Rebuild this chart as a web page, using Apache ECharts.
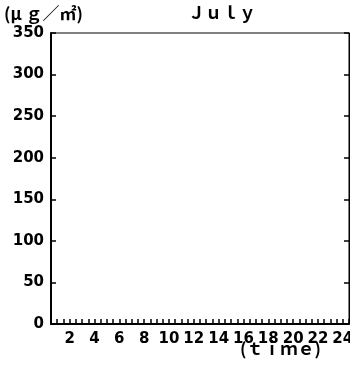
<!DOCTYPE html>
<html><head><meta charset="utf-8">
<script src="https://cdn.jsdelivr.net/npm/echarts@6/dist/echarts.min.js"></script>
<style>html,body{margin:0;padding:0;background:#fff}#c{width:350px;height:367px}</style>
</head><body><div id="c"></div>
<script>
// ---- chart content ----
const monthTitle = 'Ｊｕｌｙ';
const unitLabel = '(μ ｇ／㎡)';
const xAxisTitle = '(ｔｉｍｅ)';
const yTickLabels = [0, 50, 100, 150, 200, 250, 300, 350];
const hourTickLabels = [2, 4, 6, 8, 10, 12, 14, 16, 18, 20, 22, 24];
// the July panel contains no plotted values
const hours = [];
const concentration = [];

const chart = echarts.init(document.getElementById('c'), null, {renderer: 'canvas'});
const numFont = 'DejaVu Sans';
const seriesData = hours.map((h, i) => [h, concentration[i]]);

chart.setOption({
  animation: false,
  backgroundColor: '#fff',
  grid: {left: 51, right: 1, top: 33, bottom: 43, containLabel: false, outerBoundsMode: 'none',
    show: true, borderColor: '#000', borderWidth: 1, backgroundColor: 'transparent'},
  graphic: [
    {type: 'text', left: 4, top: 5, style: {text: unitLabel, font: 'bold 17px "Noto Sans CJK JP"', fill: '#000'}},
    {type: 'text', left: 188, top: 4, style: {text: monthTitle, font: 'bold 17px "Noto Sans CJK JP"', fill: '#000'}},
    {type: 'text', left: 240, top: 340, style: {text: xAxisTitle, font: 'bold 17px "Noto Sans CJK JP"', fill: '#000'}}
  ],
  xAxis: {
    type: 'value', min: 0.5, max: 24.5, interval: 0.5,
    axisLine: {show: true, onZero: false, lineStyle: {color: '#000', width: 2}},
    axisTick: {show: true, inside: true, length: 5, lineStyle: {color: '#000', width: 1.5}},
    splitLine: {show: false},
    axisLabel: {
      margin: 8, color: '#000', fontFamily: numFont, fontWeight: 'bold', fontSize: 15,
      showMinLabel: true, showMaxLabel: true, hideOverlap: false,
      formatter: v => hourTickLabels.includes(v) ? String(v) : ''
    }
  },
  yAxis: [{
    type: 'value', min: 0, max: 350, interval: 50, position: 'left',
    axisLine: {show: true, lineStyle: {color: '#000', width: 2}},
    axisTick: {show: true, inside: true, length: 5, lineStyle: {color: '#000', width: 1.5}},
    splitLine: {show: false},
    axisLabel: {margin: 7, color: '#000', fontFamily: numFont, fontWeight: 'bold', fontSize: 15,
      formatter: v => yTickLabels.includes(v) ? String(v) : ''}
  }, {
    type: 'value', min: 0, max: 350, interval: 50, position: 'right',
    axisLine: {show: true, lineStyle: {color: '#000', width: 1}},
    axisTick: {show: true, inside: true, length: 5, lineStyle: {color: '#000', width: 1.5}},
    splitLine: {show: false},
    axisLabel: {show: false}
  }],
  series: [{type: 'line', data: seriesData, symbol: 'none', lineStyle: {color: '#000', width: 1}}]
});
</script>
</body></html>
